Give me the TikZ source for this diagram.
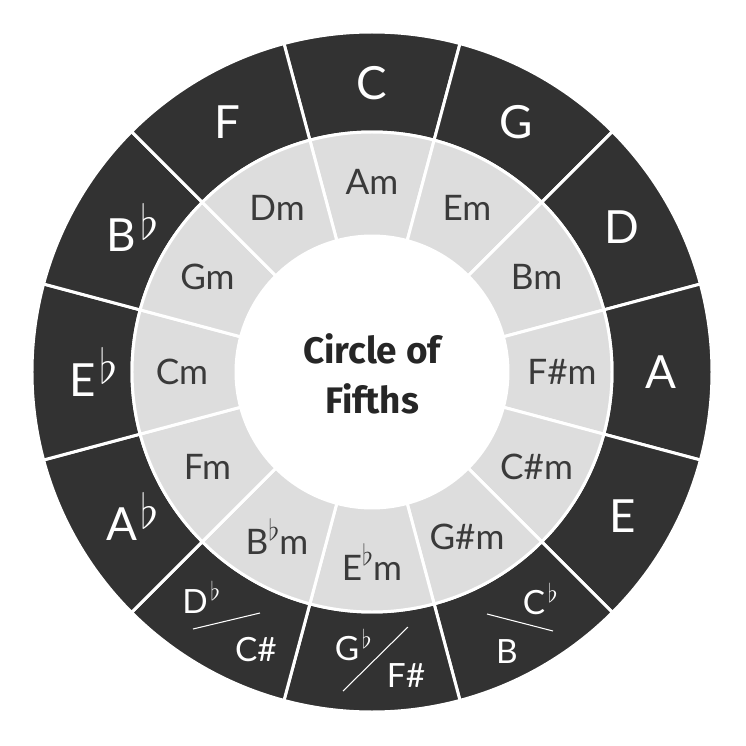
\documentclass[tikz,border=0pt]{standalone}
\usepackage{fontspec}
\setmainfont{Lato}
\newfontfamily\titlefont{Fira Sans}
\definecolor{ringdark}{HTML}{323232}
\definecolor{ringlight}{HTML}{DDDDDD}
\definecolor{minortext}{HTML}{3A3A3A}
\newcommand{\keyflat}{\rlap{\kern0.08em\raisebox{0.28em}{\scalebox{1.1}{$\flat$}}}}
\newcommand{\enhflat}{\rlap{\kern0.08em\raisebox{0.38em}{\scalebox{0.85}{$\flat$}}}}
\newcommand{\minflat}{\raisebox{0.42em}{\scalebox{0.8}{$\flat$}}}
\begin{document}
\begin{tikzpicture}[
  darksector/.style={fill=ringdark, draw=white, line width=1.7pt},
  lightsector/.style={fill=ringlight, draw=white, line width=1.7pt},
  major/.style={text=white, font=\fontsize{26}{30}\selectfont},
  minor/.style={text=minortext, font=\fontsize{20}{24}\selectfont},
  enharm/.style={text=white, font=\fontsize{19}{23}\selectfont},
  slash/.style={white, line width=0.6pt}]
\useasboundingbox (-7.44, -7.48) rectangle (7.48, 7.44);
% the two rings, twelve sectors each
\foreach \i in {0,...,11} {
  \pgfmathsetmacro{\a}{105-30*\i}
  \pgfmathsetmacro{\b}{75-30*\i}
  \filldraw[darksector] (\a:6.8) arc[start angle=\a, end angle=\b, radius=6.8] -- (\b:4.8) arc[start angle=\b, end angle=\a, radius=4.8] -- cycle;
  \filldraw[lightsector] (\a:4.8) arc[start angle=\a, end angle=\b, radius=4.8] -- (\b:2.72) arc[start angle=\b, end angle=\a, radius=2.72] -- cycle;
}
\foreach \lbl/\ang [count=\i] in {C/90, G/60, D/30, A/0, E/-30, A\keyflat/-150, E\keyflat/180, B\keyflat/150, F/120}
  \node[major] (major-\i) at (\ang:5.78) {\lbl};
\foreach \lbl/\ang [count=\i] in {Am/90, Em/60, Bm/30, F\#m/0, C\#m/-30, G\#m/-60, E\minflat m/-90, B\minflat m/-120, Fm/-150, Cm/180, Gm/150, Dm/120}
  \node[minor] (minor-\i) at (\ang:3.8) {\lbl};
% enharmonic keys at the bottom
\node[enharm] (dflat) at (-3.54, -4.50) {D\enhflat};
\node[enharm] (csharp) at (-2.32, -5.56) {C\#};
\coordinate (dslash-a) at (-3.58, -5.14);
\coordinate (dslash-b) at (-2.24, -4.82);
\draw[slash] (dslash-a) -- (dslash-b);
\node[enharm] (gflat) at (-0.50, -5.46) {G\enhflat};
\node[enharm] (fsharp) at (0.68, -6.08) {F\#};
\coordinate (gslash-a) at (-0.58, -6.38);
\coordinate (gslash-b) at (0.72, -5.10);
\draw[slash] (gslash-a) -- (gslash-b);
\node[enharm] (cflat) at (3.24, -4.54) {C\enhflat};
\node[enharm] (bnat) at (2.70, -5.60) {B};
\coordinate (cslash-a) at (2.30, -4.84);
\coordinate (cslash-b) at (3.62, -5.18);
\draw[slash] (cslash-a) -- (cslash-b);
\node[text=black!85, font=\titlefont\bfseries\fontsize{21}{28.5}\selectfont, align=center] (title) at (0, -0.04) {Circle of\\Fifths};
\end{tikzpicture}
\end{document}
